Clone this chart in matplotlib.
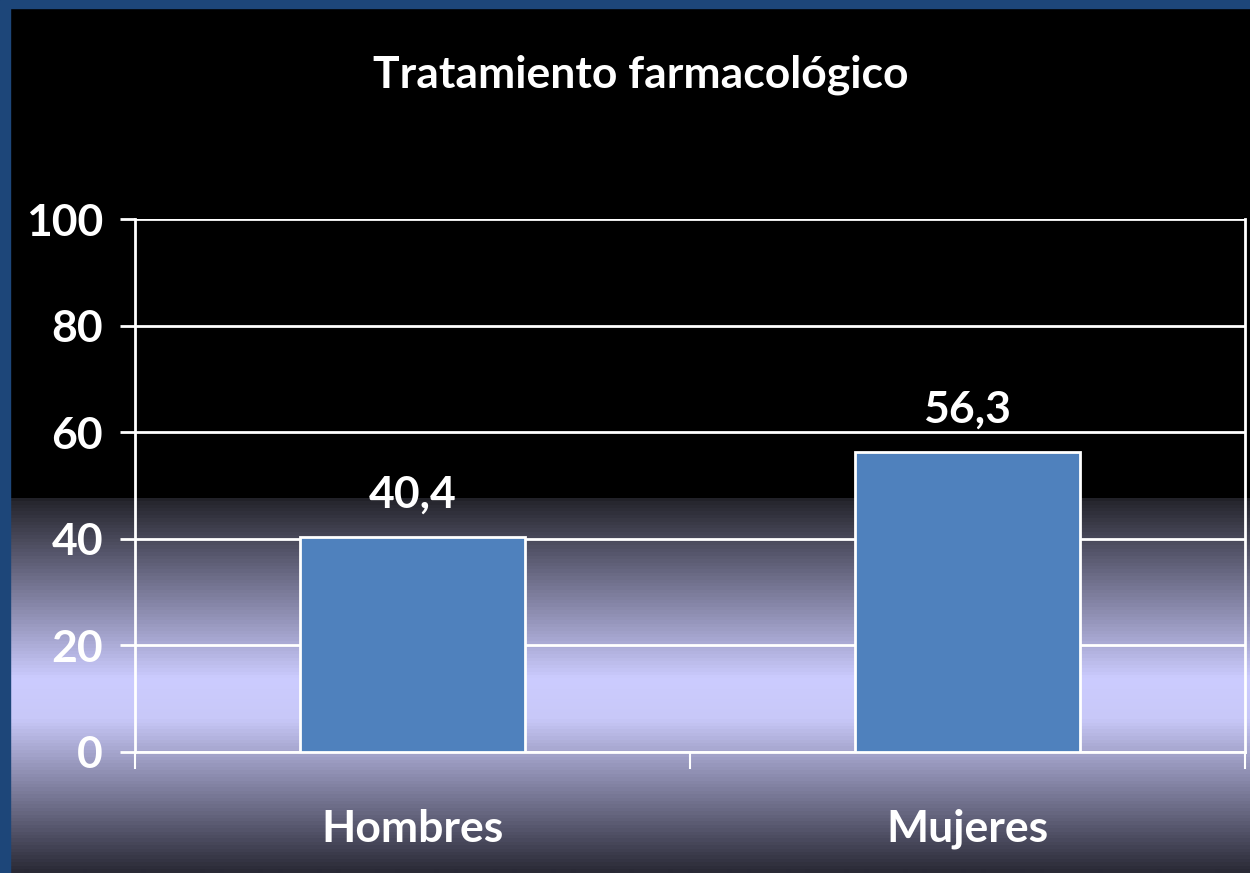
import matplotlib
matplotlib.use("Agg")
import matplotlib.pyplot as plt
import numpy as np
from matplotlib.colors import LinearSegmentedColormap
from matplotlib.patches import Rectangle

categories = ["Hombres", "Mujeres"]
values = [40.4, 56.3]
value_labels = ["40,4", "56,3"]
yticks = [0, 20, 40, 60, 80, 100]
title = "Tratamiento farmacológico"

W, H = 1250, 873
fig = plt.figure(figsize=(W / 100, H / 100), dpi=100, facecolor="black")
FONT = ["Lato", "DejaVu Sans"]
FS = 32

# background gradient (pixel rows from top)
stops = [(0, "#000000"), (498, "#000000"), (500, "#24242c"), (680, "#ccccff"),
         (720, "#c8c8f8"), (873, "#2a2a36")]
cmap = LinearSegmentedColormap.from_list("bg", [(p / H, c) for p, c in stops])
bg = fig.add_axes([0, 0, 1, 1], zorder=0)
grad = np.linspace(0, 1, H).reshape(-1, 1)
bg.imshow(grad, aspect="auto", cmap=cmap, extent=[0, 1, 1, 0], interpolation="bilinear")
bg.set_xlim(0, 1)
bg.set_ylim(1, 0)
bg.axis("off")
# blue border
fig.patches.append(Rectangle((0, 0), 10 / W, 1, transform=fig.transFigure, color="#1d4679", zorder=1))
fig.patches.append(Rectangle((0, 1 - 8 / H), 1, 8 / H, transform=fig.transFigure, color="#1d4679", zorder=1))

L, R, T, B = 135, 1245, 219, 752
ax = fig.add_axes([L / W, (H - B) / H, (R - L) / W, (B - T) / H], zorder=2)
ax.set_facecolor("none")
x = np.arange(len(categories)) + 0.5
bars = ax.bar(x, values, width=0.405, color="#4f81bd", edgecolor="white", linewidth=2, zorder=3)
ax.set_xlim(0, len(categories))
ax.set_ylim(0, 100)
ax.set_yticks(yticks)
ax.set_yticklabels([str(v) for v in yticks], fontsize=FS, fontweight="bold", color="white", family=FONT)
ax.yaxis.grid(True, color="white", linewidth=2, zorder=1)
ax.set_axisbelow(True)
ax.tick_params(axis="y", length=11, width=2, color="white", pad=12)
ax.set_xticks(np.arange(len(categories) + 1))
ax.set_xticklabels([])
ax.tick_params(axis="x", length=12, width=1.5, color="white")
for s in ["left", "right", "bottom"]:
    ax.spines[s].set_color("white")
    ax.spines[s].set_linewidth(2)
ax.spines["top"].set_visible(False)

for xi, v, lab in zip(x, values, value_labels):
    ax.annotate(lab, (xi, v), xytext=(0, 21), textcoords="offset points", ha="center", va="baseline",
                fontsize=FS, fontweight="bold", color="white", family=FONT)
for xi, c in zip(x, categories):
    ax.text(xi, -14.4, c, ha="center", va="center", fontsize=FS, fontweight="bold", color="white", family=FONT)

fig.text(641 / W, 1 - 75 / H, title, ha="center", va="center", fontsize=FS, fontweight="bold",
         color="white", family=FONT)

fig.savefig("out.png", dpi=100, facecolor="black")
